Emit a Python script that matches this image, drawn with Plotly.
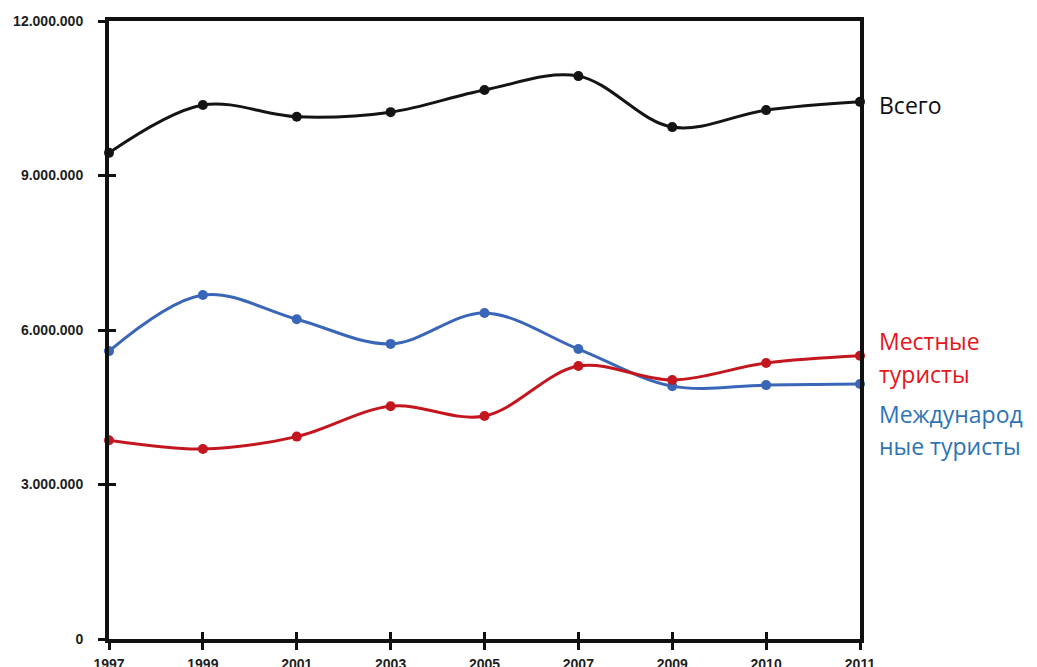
import plotly.graph_objects as go

years = ["1997", "1999", "2001", "2003", "2005", "2007", "2009", "2010", "2011"]
total = [9.44e6, 10.37e6, 10.14e6, 10.23e6, 10.66e6, 10.93e6, 9.94e6, 10.27e6, 10.43e6]
international = [5.59e6, 6.68e6, 6.21e6, 5.73e6, 6.33e6, 5.63e6, 4.91e6, 4.93e6, 4.95e6]
local = [3.86e6, 3.69e6, 3.93e6, 4.52e6, 4.33e6, 5.30e6, 5.03e6, 5.36e6, 5.50e6]
y_ticks = [0, 3e6, 6e6, 9e6, 12e6]
y_tick_text = ["0", "3.000.000", "6.000.000", "9.000.000", "12.000.000"]

series = [
    (total, "#141414"),
    (international, "#3a66b8"),
    (local, "#c4161e"),
]

fig = go.Figure()
for vals, col in series:
    fig.add_trace(go.Scatter(
        x=years, y=vals, mode="lines+markers",
        line=dict(color=col, width=3, shape="spline", smoothing=1.0),
        marker=dict(color=col, size=10),
        cliponaxis=False, showlegend=False, hoverinfo="skip",
    ))

# invisible trace to carry inner tick overlay axes
fig.add_trace(go.Scatter(x=years, y=total, mode="lines", opacity=0,
                         xaxis="x2", yaxis="y2", showlegend=False, hoverinfo="skip"))

tickfont = dict(family="Liberation Sans, Arial", size=14, color="#1e1e1e", weight=700)
fig.update_layout(
    width=1029, height=659,
    margin=dict(l=101, r=177, t=13, b=28, autoexpand=False),
    paper_bgcolor="white", plot_bgcolor="white",
    xaxis=dict(type="category", categoryarray=years, range=[0, 8], automargin=False,
               showgrid=False, zeroline=False,
               showline=True, linecolor="#111111", linewidth=4, mirror=True,
               ticks="outside", ticklen=7, tickwidth=3, tickcolor="#111111",
               tickfont=tickfont, ticklabelstandoff=2),
    yaxis=dict(range=[0, 12e6], tickvals=y_ticks, ticktext=y_tick_text, automargin=False,
               showgrid=False, zeroline=False,
               showline=True, linecolor="#111111", linewidth=4, mirror=True,
               ticks="outside", ticklen=7, tickwidth=3, tickcolor="#111111",
               tickfont=tickfont, ticklabelstandoff=12),
    xaxis2=dict(type="category", categoryarray=years, range=[0, 8], overlaying="x",
                anchor="y2", side="bottom", showgrid=False, zeroline=False, showline=False,
                ticks="inside", ticklen=7, tickwidth=3, tickcolor="#111111",
                showticklabels=False, automargin=False),
    yaxis2=dict(range=[0, 12e6], tickvals=y_ticks, overlaying="y", anchor="x2", side="left",
                showgrid=False, zeroline=False, showline=False,
                ticks="inside", ticklen=7, tickwidth=3, tickcolor="#111111",
                showticklabels=False, automargin=False),
)

lab_font = "Open Sans, Calibri, sans-serif"
labels = [
    ("Всего", (639 - 105) / 618, "#111111"),
    ("Местные", (639 - 341) / 618, "#e3161b"),
    ("туристы", (639 - 374) / 618, "#e3161b"),
    ("Международ", (639 - 414) / 618, "#2e74b5"),
    ("ные туристы", (639 - 446) / 618, "#2e74b5"),
]
for txt, yy, col in labels:
    fig.add_annotation(text=txt, x=1.0, xref="paper", y=yy, yref="paper",
                       xanchor="left", yanchor="middle", xshift=17, showarrow=False,
                       font=dict(family=lab_font, size=23, color=col))

fig.write_html("out.html")
